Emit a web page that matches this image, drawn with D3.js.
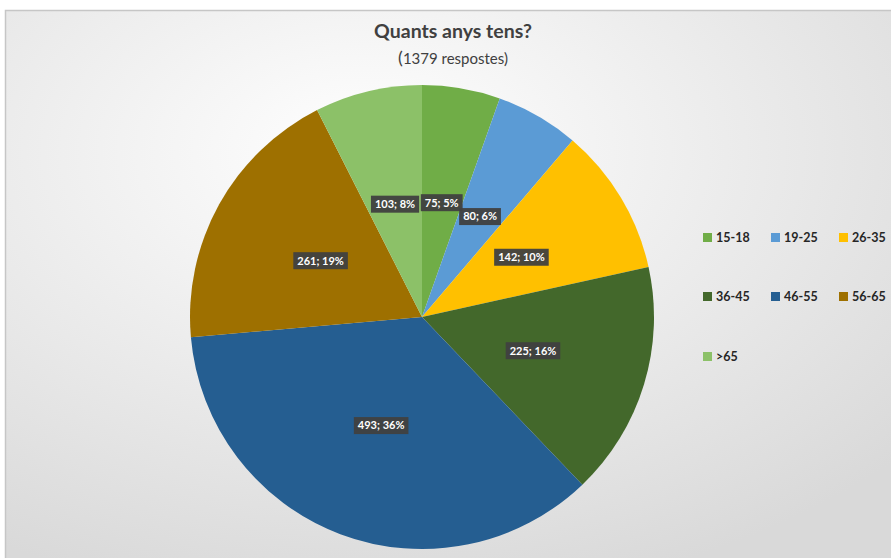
<!DOCTYPE html>
<html>
<head>
<meta charset="utf-8">
<script src="https://cdn.jsdelivr.net/npm/d3@7"></script>
<style>
  html, body { margin: 0; padding: 0; background: #ffffff; }
  svg { display: block; }
</style>
</head>
<body>
<svg id="chart" width="891" height="558"></svg>
<script>
// Age groups of the survey respondents
const categories = ["15-18", "19-25", "26-35", "36-45", "46-55", "56-65", ">65"];
const counts = [75, 80, 142, 225, 493, 261, 103];
const percentLabels = ["5%", "6%", "10%", "16%", "36%", "19%", "8%"];
const colors = ["#70ad47", "#5b9bd5", "#ffc000", "#43682b", "#255e91", "#9e7000", "#8cc168"];
const titleText = "Quants anys tens?";
const subtitleText = "1379 respostes";

const W = 891, H = 558;
const svg = d3.select("#chart");
const font = "Lato, 'Open Sans', 'Liberation Sans', sans-serif";

// Chart area background with soft radial shading
const defs = svg.append("defs");
const grad = defs.append("radialGradient").attr("id", "bg")
  .attr("cx", "40%").attr("cy", "25%").attr("r", "80%");
grad.append("stop").attr("offset", "0%").attr("stop-color", "#ffffff");
grad.append("stop").attr("offset", "100%").attr("stop-color", "#d9d9d9");

svg.append("rect")
  .attr("x", 5.5).attr("y", 10.5).attr("width", W + 10).attr("height", H + 10)
  .attr("fill", "url(#bg)").attr("stroke", "#c6c6c6").attr("stroke-width", 1.5);

// Title
svg.append("text")
  .attr("x", 453).attr("y", 38)
  .attr("text-anchor", "middle")
  .attr("font-family", font).attr("font-weight", "bold").attr("font-size", 19.5)
  .attr("fill", "#404040")
  .text(titleText);

const sub = svg.append("text")
  .attr("x", 453).attr("y", 64)
  .attr("text-anchor", "middle")
  .attr("font-family", font).attr("font-size", 15)
  .attr("fill", "#404040");
sub.append("tspan").attr("font-size", 18).text("(");
sub.append("tspan").text(subtitleText + ")");

// Pie
const cx = 422, cy = 317, radius = 232;
const data = categories.map((c, i) => ({ cat: c, value: counts[i], pct: percentLabels[i], color: colors[i] }));
const pie = d3.pie().value(d => d.value).sort(null);
const arcs = pie(data);
const arc = d3.arc().innerRadius(0).outerRadius(radius);
const labelArc = d3.arc().innerRadius(radius * 0.5).outerRadius(radius * 0.5);

const g = svg.append("g").attr("transform", `translate(${cx},${cy})`);
g.selectAll("path.slice").data(arcs).enter().append("path")
  .attr("class", "slice")
  .attr("d", arc)
  .attr("fill", d => d.data.color);

// Data labels in dark boxes
const lab = g.selectAll("g.lab").data(arcs).enter().append("g")
  .attr("class", "lab")
  .attr("transform", d => {
    const [x, y] = labelArc.centroid(d);
    return `translate(${x},${y})`;
  });

lab.each(function (d) {
  const sel = d3.select(this);
  const t = sel.append("text")
    .attr("text-anchor", "middle")
    .attr("dy", "0.35em")
    .attr("font-family", font).attr("font-weight", "bold").attr("font-size", 11)
    .attr("fill", "#ffffff")
    .text(`${d.data.value}; ${d.data.pct}`);
  const bb = t.node().getBBox();
  sel.insert("rect", "text")
    .attr("x", bb.x - 4).attr("y", -8.5)
    .attr("width", bb.width + 8).attr("height", 17)
    .attr("fill", "#404040").attr("opacity", 0.95);
});

// Legend: three columns
const legCols = [703, 771, 839];
const legRows = [238, 297, 357];
const leg = svg.selectAll("g.leg").data(data).enter().append("g")
  .attr("class", "leg")
  .attr("transform", (d, i) => `translate(${legCols[i % 3]},${legRows[Math.floor(i / 3)]})`);
leg.append("rect").attr("x", 0).attr("y", -5).attr("width", 9).attr("height", 9)
  .attr("fill", d => d.color);
leg.append("text").attr("x", 13).attr("y", 0).attr("dy", "0.35em")
  .attr("font-family", font).attr("font-weight", "bold").attr("font-size", 12.5)
  .attr("fill", "#262626")
  .text(d => d.cat);
</script>
</body>
</html>
